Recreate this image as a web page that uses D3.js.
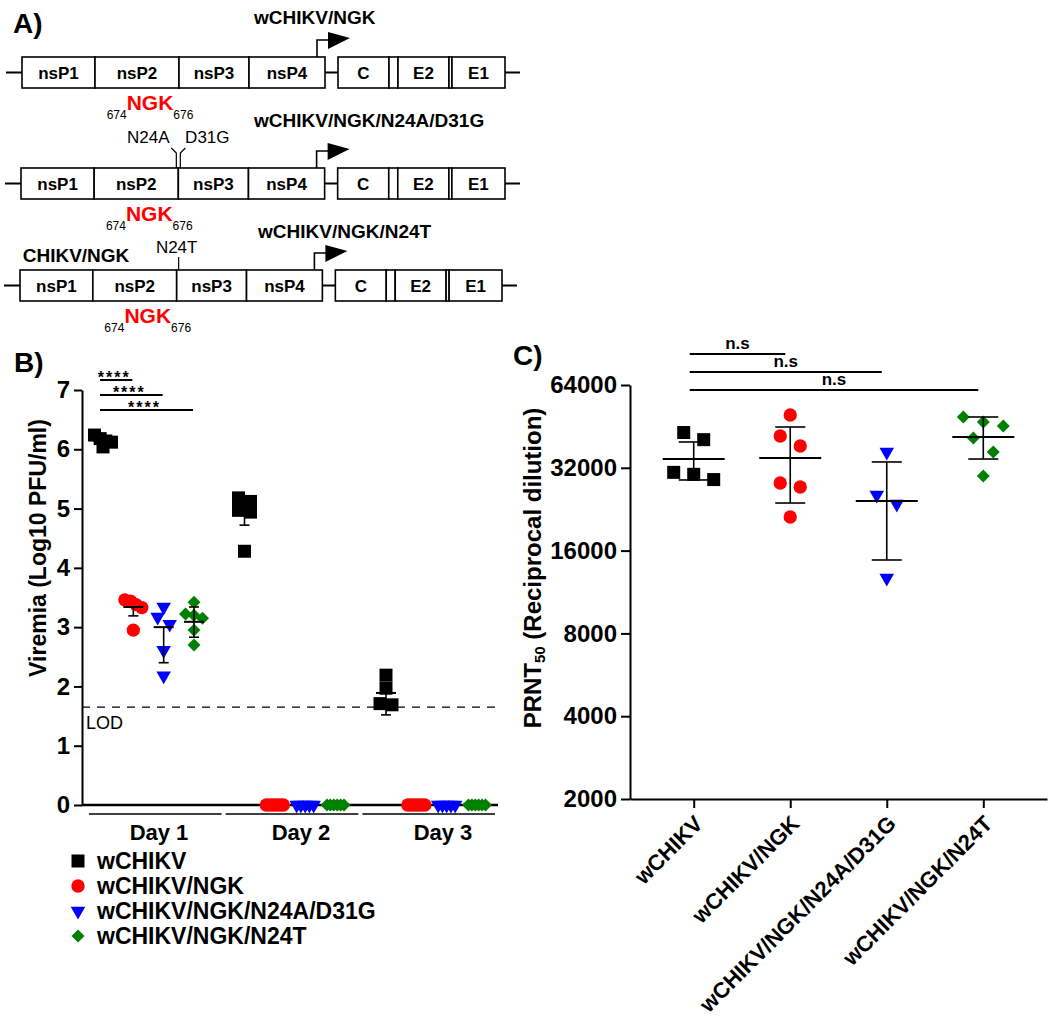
<!DOCTYPE html>
<html><head><meta charset="utf-8">
<script src="https://cdn.jsdelivr.net/npm/d3@7"></script>
<style>
body{margin:0;background:#fff}
svg{display:block}
text{font-family:Arial,"Liberation Sans",sans-serif;fill:#000}
</style>
</head><body>
<svg id="fig" width="1050" height="1022"></svg>
<script>
// ================= DATA =================
const groups = ["wCHIKV", "wCHIKV/NGK", "wCHIKV/NGK/N24A/D31G", "wCHIKV/NGK/N24T"];
const days = ["Day 1", "Day 2", "Day 3"];
const viremiaTicks = [0, 1, 2, 3, 4, 5, 6, 7];
const lodValue = 1.65;
// Viremia (log10 PFU/ml), one list per day
const viremiaWCHIKV   = [[6.24, 6.18, 6.14, 6.12, 6.04], [5.18, 5.12, 4.97, 4.94, 4.28], [2.19, 1.97, 1.71, 1.69]];
const viremiaNGK      = [[3.46, 3.44, 3.38, 3.33, 2.95], [0, 0, 0, 0, 0, 0], [0, 0, 0, 0, 0, 0]];
const viremiaN24AD31G = [[3.34, 3.17, 3.05, 2.61, 2.18], [0, 0, 0, 0, 0], [0, 0, 0, 0, 0]];
const viremiaN24T     = [[3.42, 3.22, 3.20, 3.15, 2.95, 2.70], [0, 0, 0, 0, 0, 0], [0, 0, 0, 0, 0, 0]];
// group summaries per day (mean, lower and upper error-bar end)
const viremiaMean = [[6.14, 4.95, 1.89], [3.34, 0, 0], [3.00, 0, 0], [3.09, 0, 0]];
const viremiaLow  = [[6.10, 4.72, 1.52], [3.19, 0, 0], [2.40, 0, 0], [2.83, 0, 0]];
const viremiaHigh = [[6.14, 4.95, 1.89], [3.34, 0, 0], [3.00, 0, 0], [3.34, 0, 0]];
const viremiaSig = ["****", "****", "****"];

const prntTicks = [2000, 4000, 8000, 16000, 32000, 64000];
const prntWCHIKV   = [43000, 40500, 30800, 29000, 30300];
const prntNGK      = [49800, 41760, 38400, 28170, 27250, 21200];
const prntN24AD31G = [36500, 25480, 23640, 12720];
const prntN24T     = [48960, 46960, 45400, 41060, 36530, 29880];
const prntMean = [34440, 34740, 24230, 41400];
const prntLow  = [28900, 23830, 14790, 34440];
const prntHigh = [39720, 45030, 33600, 48960];
const prntSig = ["n.s", "n.s", "n.s"];

// Panel A schematic
const nsGenes = ["nsP1", "nsP2", "nsP3", "nsP4"];
const nsLengths = [73, 84, 70, 76];
const sGenes = ["C", "", "E2", "", "E1"];
const sLengths = [51, 9, 51, 3, 53];
const constructs = ["wCHIKV/NGK", "wCHIKV/NGK/N24A/D31G", "wCHIKV/NGK/N24T"];

// ================= DRAW =================
const svg = d3.select("#fig");
const FONT = "Arial, 'Liberation Sans', sans-serif";
const colors = ["#000000", "#ff0000", "#0000ff", "#008000"];
const symTypes = [d3.symbolSquare, d3.symbolCircle, d3.symbolTriangle, d3.symbolSquare];
const symSizes = [169, 140, 92, 84];
const symRot = [0, 0, 180, 45];
function marker(sel, gi, x, y) {
  sel.append("path")
    .attr("d", d3.symbol().type(symTypes[gi]).size(symSizes[gi])())
    .attr("transform", `translate(${x},${y}) rotate(${symRot[gi]})`)
    .attr("fill", colors[gi]);
}
// row-based spreading of points (GraphPad-like scatter)
function rowOffsets(ys, binH, step0, avail) {
  const idx = ys.map((y, i) => i).sort((a, b) => ys[a] - ys[b]);
  const off = new Array(ys.length).fill(0);
  let i = 0;
  while (i < idx.length) {
    const start = ys[idx[i]];
    let j = i;
    while (j + 1 < idx.length && ys[idx[j + 1]] - start <= binH) j++;
    const n = j - i + 1;
    const st = n > 1 ? Math.min(step0, avail / (n - 1)) : 0;
    for (let k = 0; k < n; k++) off[idx[i + k]] = (k - (n - 1) / 2) * st;
    i = j + 1;
  }
  return off;
}

// ---------- Panel A ----------
svg.append("text").attr("x", 13).attr("y", 33).attr("font-size", 28).attr("font-weight", "bold").text("A)");
const nsStart = d3.cumsum([0].concat(nsLengths));
const gapUnits = 13;
const sStartBase = nsStart[nsStart.length - 1] + gapUnits;
const sStart = d3.cumsum([0].concat(sLengths)).map(v => v + sStartBase);
const totalUnits = sStart[sStart.length - 1];
const rowTops = [57, 168, 270];
const rowRanges = [[22, 505], [21, 505], [20, 502]];
const rowHeight = 31;
const labelX = [254, 254, 258];
const labelY = [24, 127, 238];

const A = svg.append("g");
rowTops.forEach((top, r) => {
  const xA = d3.scaleLinear().domain([0, totalUnits]).range(rowRanges[r]);
  const cy = top + rowHeight / 2;
  A.append("line").attr("x1", xA(-16)).attr("x2", xA(totalUnits + 15)).attr("y1", cy).attr("y2", cy)
    .attr("stroke", "#000").attr("stroke-width", 2);
  nsGenes.forEach((g, i) => {
    A.append("rect").attr("x", xA(nsStart[i])).attr("y", top).attr("width", xA(nsStart[i + 1]) - xA(nsStart[i]))
      .attr("height", rowHeight).attr("fill", "#fff").attr("stroke", "#000").attr("stroke-width", 1.6);
    A.append("text").attr("x", (xA(nsStart[i]) + xA(nsStart[i + 1])) / 2).attr("y", cy + 6)
      .attr("text-anchor", "middle").attr("font-size", 17).attr("font-weight", "bold").text(g);
  });
  sGenes.forEach((g, i) => {
    A.append("rect").attr("x", xA(sStart[i])).attr("y", top).attr("width", xA(sStart[i + 1]) - xA(sStart[i]))
      .attr("height", rowHeight).attr("fill", "#fff").attr("stroke", "#000").attr("stroke-width", 1.6);
    if (g) A.append("text").attr("x", (xA(sStart[i]) + xA(sStart[i + 1])) / 2).attr("y", cy + 6)
      .attr("text-anchor", "middle").attr("font-size", 17).attr("font-weight", "bold").text(g);
  });
  const px = xA(295), py = top - 17;
  A.append("path").attr("d", `M${px},${top} V${py} H${px + 12}`).attr("fill", "none").attr("stroke", "#000").attr("stroke-width", 1.6);
  A.append("path").attr("d", `M${px + 11},${py - 8} L${px + 11},${py + 9} L${px + 33},${py - 2} Z`).attr("fill", "#000");
  A.append("text").attr("x", labelX[r]).attr("y", labelY[r]).attr("font-size", 19).attr("font-weight", "bold").text(constructs[r]);
  const t = A.append("text").attr("x", xA(128)).attr("y", top + rowHeight + 22).attr("text-anchor", "middle");
  t.append("tspan").attr("font-size", 12).attr("dy", 9).text("674");
  t.append("tspan").attr("font-size", 21).attr("font-weight", "bold").attr("fill", "#ff0000").attr("dy", -9).text("NGK");
  t.append("tspan").attr("font-size", 12).attr("dy", 9).text("676");
  const jx = xA(nsStart[2]);
  if (r === 1) {
    A.append("path").attr("d", `M${jx - 2},${top} V${top - 15} L${jx - 7},${top - 20}`).attr("fill", "none").attr("stroke", "#000").attr("stroke-width", 1.2);
    A.append("path").attr("d", `M${jx + 2},${top} V${top - 15} L${jx + 7},${top - 20}`).attr("fill", "none").attr("stroke", "#000").attr("stroke-width", 1.2);
    A.append("text").attr("x", jx - 30).attr("y", top - 25).attr("text-anchor", "middle").attr("font-size", 17).text("N24A");
    A.append("text").attr("x", jx + 29).attr("y", top - 25).attr("text-anchor", "middle").attr("font-size", 17).text("D31G");
  }
  if (r === 2) {
    A.append("line").attr("x1", jx + 2).attr("x2", jx + 2).attr("y1", top).attr("y2", top - 13).attr("stroke", "#000").attr("stroke-width", 1.2);
    A.append("text").attr("x", jx).attr("y", top - 17).attr("text-anchor", "middle").attr("font-size", 17).text("N24T");
    A.append("text").attr("x", 76).attr("y", top - 8).attr("text-anchor", "middle").attr("font-size", 19).attr("font-weight", "bold").text("CHIKV/NGK");
  }
});

// ---------- Panel B ----------
svg.append("text").attr("x", 14).attr("y", 372).attr("font-size", 28).attr("font-weight", "bold").text("B)");
const yB = d3.scaleLinear().domain([0, 7]).range([805, 390]);
const xDay = d3.scalePoint().domain(days).range([103, 386]);
const xGrp = d3.scalePoint().domain(groups).range([0, 91]);
const xDayLabel = d3.scalePoint().domain(days).range([159, 443]);
const xSeg = d3.scaleBand().domain(days).range([89, 495]).paddingInner(0.03);
const B = svg.append("g");
const yAxB = B.append("g").attr("transform", "translate(82,0)")
  .call(d3.axisLeft(yB).tickValues(viremiaTicks).tickFormat(d3.format("d")).tickSize(8).tickSizeOuter(0).tickPadding(4));
yAxB.select(".domain").attr("stroke-width", 2);
yAxB.selectAll(".tick line").attr("stroke-width", 2);
yAxB.selectAll(".tick text").attr("font-size", 24).attr("font-weight", "bold").attr("font-family", FONT).attr("fill", "#000");
B.append("line").attr("x1", 82).attr("x2", 498).attr("y1", yB(lodValue)).attr("y2", yB(lodValue))
  .attr("stroke", "#000").attr("stroke-width", 1.3).attr("stroke-dasharray", "8,7");
B.append("text").attr("x", 86).attr("y", yB(lodValue) + 22).attr("font-size", 18).text("LOD");
B.append("line").attr("x1", 82).attr("x2", 498).attr("y1", yB(0)).attr("y2", yB(0)).attr("stroke", "#000").attr("stroke-width", 2.5);
days.forEach(d => {
  B.append("line").attr("x1", xSeg(d)).attr("x2", xSeg(d) + xSeg.bandwidth()).attr("y1", 814).attr("y2", 814)
    .attr("stroke", "#000").attr("stroke-width", 1.6);
  B.append("text").attr("x", xDayLabel(d)).attr("y", 840).attr("text-anchor", "middle")
    .attr("font-size", 22).attr("font-weight", "bold").text(d);
});
const viremiaSeries = [viremiaWCHIKV, viremiaNGK, viremiaN24AD31G, viremiaN24T];
viremiaSeries.forEach((series, gi) => {
  series.forEach((vals, di) => {
    const cx = xDay(days[di]) + xGrp(groups[gi]);
    const ys = vals.map(v => yB(v));
    const offs = rowOffsets(ys, 8, 12, 17);
    vals.forEach((v, k) => marker(B, gi, cx + offs[k], ys[k]));
  });
});
groups.forEach((g, gi) => {
  days.forEach((d, di) => {
    const m = viremiaMean[gi][di];
    if (m <= 0) return;
    const cx = xDay(d) + xGrp(g);
    const lo = viremiaLow[gi][di], hi = viremiaHigh[gi][di];
    B.append("line").attr("x1", cx).attr("x2", cx).attr("y1", yB(lo)).attr("y2", yB(hi)).attr("stroke", "#000").attr("stroke-width", 1.6);
    B.append("line").attr("x1", cx - 10).attr("x2", cx + 10).attr("y1", yB(m)).attr("y2", yB(m)).attr("stroke", "#000").attr("stroke-width", 2);
    [lo, hi].forEach(e => {
      if (e !== m) B.append("line").attr("x1", cx - 5).attr("x2", cx + 5).attr("y1", yB(e)).attr("y2", yB(e)).attr("stroke", "#000").attr("stroke-width", 1.6);
    });
  });
});
viremiaSig.forEach((s, k) => {
  const x1 = xDay(days[0]) + xGrp(groups[0]) - 3;
  const x2 = xDay(days[0]) + xGrp(groups[k + 1]) - 1;
  const y = yB(7) - 10 + k * 15;
  B.append("line").attr("x1", x1).attr("x2", x2).attr("y1", y).attr("y2", y).attr("stroke", "#000").attr("stroke-width", 2);
  B.append("text").attr("x", (x1 + x2) / 2 - 2).attr("y", y + 3).attr("text-anchor", "middle")
    .attr("font-size", 16).attr("letter-spacing", 2).attr("font-weight", "bold").text(s);
});
B.append("text").attr("transform", "translate(38,548) rotate(-90)").attr("text-anchor", "middle")
  .attr("dominant-baseline", "central").attr("font-size", 23).attr("font-weight", "bold").text("Viremia (Log10 PFU/ml)");
groups.forEach((g, gi) => {
  const y = 861 + gi * 25;
  marker(B, gi, 78, y);
  B.append("text").attr("x", 97).attr("y", y + 8).attr("font-size", 23).attr("font-weight", "bold").text(g);
});

// ---------- Panel C ----------
svg.append("text").attr("x", 513).attr("y", 365).attr("font-size", 28).attr("font-weight", "bold").text("C)");
const yC = d3.scaleLog().base(2).domain([2000, 64000]).range([799, 385]);
const xC = d3.scalePoint().domain(groups).range([630, 1047]).padding(0.66);
const C = svg.append("g");
const yAxC = C.append("g").attr("transform", "translate(630,0)")
  .call(d3.axisLeft(yC).tickValues(prntTicks).tickFormat(d3.format("d")).tickSize(9).tickSizeOuter(0).tickPadding(4));
yAxC.select(".domain").attr("stroke-width", 2);
yAxC.selectAll(".tick line").attr("stroke-width", 2);
yAxC.selectAll(".tick text").attr("font-size", 24).attr("font-weight", "bold").attr("font-family", FONT).attr("fill", "#000");
const xAxC = C.append("g").attr("transform", "translate(0,799)")
  .call(d3.axisBottom(xC).tickSize(9).tickSizeOuter(0));
xAxC.select(".domain").attr("stroke-width", 2);
xAxC.selectAll(".tick line").attr("stroke-width", 2);
xAxC.selectAll(".tick text").attr("font-size", 22).attr("font-weight", "bold").attr("font-family", FONT).attr("fill", "#000")
  .attr("text-anchor", "end").attr("x", 0).attr("y", 0).attr("dy", 0)
  .attr("transform", "translate(10,26) rotate(-45)");
const prntSeries = [prntWCHIKV, prntNGK, prntN24AD31G, prntN24T];
prntSeries.forEach((vals, gi) => {
  const cx = xC(groups[gi]);
  const ys = vals.map(v => yC(v));
  const offs = rowOffsets(ys, 15, 20, 60);
  vals.forEach((v, k) => marker(C, gi, cx + offs[k], ys[k]));
});
groups.forEach((g, gi) => {
  const cx = xC(g);
  C.append("line").attr("x1", cx).attr("x2", cx).attr("y1", yC(prntLow[gi])).attr("y2", yC(prntHigh[gi])).attr("stroke", "#000").attr("stroke-width", 1.6);
  C.append("line").attr("x1", cx - 31).attr("x2", cx + 31).attr("y1", yC(prntMean[gi])).attr("y2", yC(prntMean[gi])).attr("stroke", "#000").attr("stroke-width", 2);
  [prntLow[gi], prntHigh[gi]].forEach(e => {
    C.append("line").attr("x1", cx - 15).attr("x2", cx + 15).attr("y1", yC(e)).attr("y2", yC(e)).attr("stroke", "#000").attr("stroke-width", 1.6);
  });
});
prntSig.forEach((s, k) => {
  const x1 = xC(groups[0]) - 4;
  const x2 = xC(groups[k + 1]) - 5;
  const y = yC(64000) - 31 + k * 18;
  C.append("line").attr("x1", x1).attr("x2", x2).attr("y1", y).attr("y2", y).attr("stroke", "#000").attr("stroke-width", 2);
  C.append("text").attr("x", (x1 + x2) / 2).attr("y", y - 5).attr("text-anchor", "middle")
    .attr("font-size", 17).attr("font-weight", "bold").text(s);
});
const tC = C.append("text").attr("transform", "translate(532,568) rotate(-90)").attr("text-anchor", "middle")
  .attr("dominant-baseline", "central").attr("font-size", 24).attr("font-weight", "bold");
tC.append("tspan").text("PRNT");
tC.append("tspan").attr("font-size", 15).attr("dy", 7).text("50");
tC.append("tspan").attr("dy", -7).text(" (Reciprocal dilution)");
</script>
</body></html>
